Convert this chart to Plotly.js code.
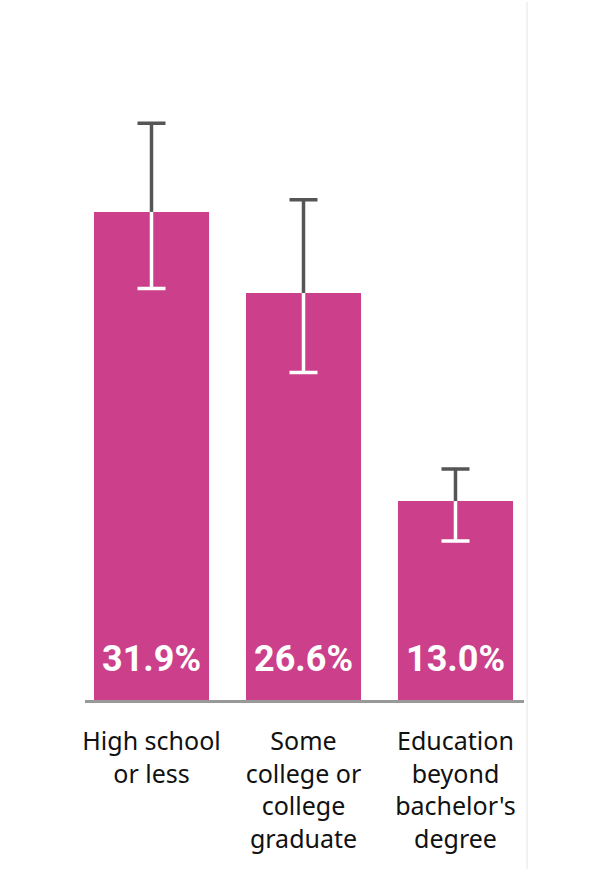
<!DOCTYPE html>
<html>
<head>
<meta charset="utf-8">
<script src="https://cdn.plot.ly/plotly-3.0.1.min.js"></script>
<style>
    html, body { margin: 0; padding: 0; background: #fff; }
    #chart { width: 604px; height: 869px; }
</style>
</head>
<body>
<div id="chart"></div>
<script>
// 数据
const categories = ['High school<br>or less', 'Some<br>college or<br>college<br>graduate', 'Education<br>beyond<br>bachelor\'s<br>degree'];
const values = [31.9, 26.6, 13.0];
const lower = [26.9, 21.4, 10.4];
const upper = [37.7, 32.7, 15.1];
const labels = ['31.9%', '26.6%', '13.0%'];

const barColor = '#CB3F8B';
const grey = '#555555';
const zeros = values.map(() => 0);

// 误差线: 柱外灰色, 柱内白色
function stem(y, plus, minus, color) {
    return {
        type: 'scatter', mode: 'markers', x: categories, y: y,
        marker: { size: 1, opacity: 0 }, hoverinfo: 'skip', showlegend: false,
        error_y: { type: 'data', symmetric: false, array: plus, arrayminus: minus,
                   color: color, thickness: 3.5, width: 0 }
    };
}
function cap(y, color) {
    return {
        type: 'scatter', mode: 'markers', x: categories, y: y,
        marker: { size: 1, opacity: 0 }, hoverinfo: 'skip', showlegend: false,
        error_y: { type: 'data', array: zeros, color: color, thickness: 3.5, width: 14 }
    };
}

const data = [
    {
        type: 'bar', x: categories, y: values,
        marker: { color: barColor },
        hoverinfo: 'skip', showlegend: false
    },
    stem(values, upper.map((u, i) => u - values[i]), zeros, grey),
    cap(upper, grey),
    stem(values, zeros, values.map((v, i) => v - lower[i]), '#ffffff'),
    cap(lower, '#ffffff')
];

const layout = {
    width: 604, height: 869,
    margin: { l: 85, r: 80, t: 40, b: 169 },
    paper_bgcolor: '#fff', plot_bgcolor: '#fff',
    bargap: 0.243,
    font: { family: 'Noto Sans, sans-serif', size: 25, color: '#111' },
    xaxis: {
        type: 'category', range: [-0.4375, 2.4507],
        showline: true, linecolor: '#999999', linewidth: 3,
        ticks: '', ticklabelstandoff: 17, showgrid: false, zeroline: false,
        tickfont: { family: 'Noto Sans, sans-serif', size: 25, color: '#111' }
    },
    yaxis: {
        range: [0, 660 / 15.3], visible: false, showgrid: false, zeroline: false
    },
    annotations: categories.map((c, i) => ({
        x: c, y: 0, xref: 'x', yref: 'y', text: labels[i],
        showarrow: false, yanchor: 'middle', yshift: 41,
        font: { family: 'Roboto, sans-serif', size: 36, color: '#fff', weight: 'bold' }
    })),
    shapes: [{
        type: 'line', xref: 'paper', yref: 'paper',
        x0: 1.0068, x1: 1.0068, y0: -0.26, y1: 1.0576,
        line: { color: '#eeeeee', width: 1.5 }
    }]
};

Plotly.newPlot('chart', data, layout, { displayModeBar: false, staticPlot: true });
</script>
</body>
</html>
